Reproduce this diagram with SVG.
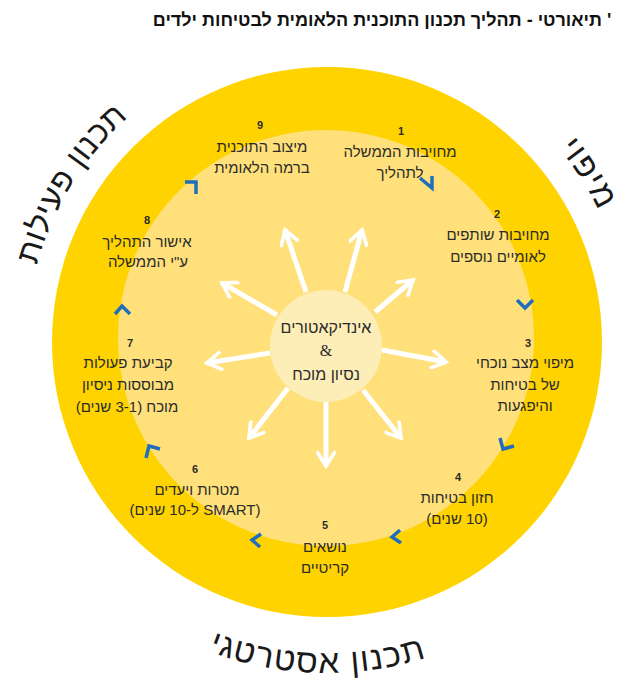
<svg xmlns="http://www.w3.org/2000/svg" xmlns:xlink="http://www.w3.org/1999/xlink" width="617" height="681" viewBox="0 0 617 681">
<style>
.lbl{font-family:"Liberation Sans","DejaVu Sans",sans-serif;font-size:15px;fill:#2b2b2b;text-anchor:middle;direction:rtl;unicode-bidi:embed}
.num{font-family:"Liberation Sans","DejaVu Sans",sans-serif;font-size:11px;font-weight:bold;fill:#2b2b2b;text-anchor:middle}
.big{font-family:"Liberation Sans","DejaVu Sans",sans-serif;font-size:33px;letter-spacing:1.5px;fill:#1a1a1a;text-anchor:middle;direction:rtl;unicode-bidi:embed}
.ctr{font-family:"Liberation Sans","DejaVu Sans",sans-serif;font-size:16px;fill:#2b2b2b;text-anchor:middle;direction:rtl;unicode-bidi:embed}
.ray{stroke:#ffffff;stroke-width:5;fill:none;marker-end:url(#ah)}
.chev{stroke:#1f6dbd;stroke-width:3.5;fill:none;stroke-linejoin:miter}
</style>
<defs>
<marker id="ah" viewBox="0 0 12 12" refX="10" refY="6" markerWidth="20" markerHeight="20" orient="auto" markerUnits="userSpaceOnUse">
<path d="M2,1 L10,6 L2,11" fill="none" stroke="#ffffff" stroke-width="2.2" stroke-linecap="square"/>
</marker>
<path id="arcBottom" d="M -4,342 A 331 331 0 0 0 658,342"/>
<path id="arcTopA" d="M 27,342 A 300 300 0 0 1 627,342"/>
<path id="arcTopB" d="M 25,342 A 302 302 0 0 1 629,342"/>
</defs>
<rect width="617" height="681" fill="#ffffff"/>
<text x="382" y="26" style="font-family:'Liberation Sans','DejaVu Sans',sans-serif;font-size:18px;font-weight:bold;fill:#111;text-anchor:middle;direction:rtl;unicode-bidi:embed">' תיאורטי - תהליך תכנון התוכנית הלאומית לבטיחות ילדים</text>

<g id="ring">
<circle cx="327" cy="342" r="275" fill="#ffd300"/>
<circle cx="326" cy="338" r="208" fill="#ffe07a"/>
</g>

<g id="connectors">
<line class="ray" x1="306" y1="292" x2="285" y2="230"/>
<line class="ray" x1="345" y1="292" x2="362" y2="230"/>
<line class="ray" x1="277" y1="315" x2="222" y2="283"/>
<line class="ray" x1="375" y1="312" x2="413" y2="280"/>
<line class="ray" x1="270" y1="353" x2="207" y2="363"/>
<line class="ray" x1="382" y1="350" x2="446" y2="362"/>
<line class="ray" x1="288" y1="388" x2="249" y2="438"/>
<line class="ray" x1="363" y1="390" x2="401" y2="438"/>
<line class="ray" x1="326" y1="402" x2="326" y2="466"/>
<polyline class="chev" points="420,178 432,188 432,176"/>
<polyline class="chev" points="517,300 525,308 533,300"/>
<polyline class="chev" points="500,438 503,449 514,446"/>
<polyline class="chev" points="400,530 392,537 401,543"/>
<polyline class="chev" points="261,534 252,540 260,547"/>
<polyline class="chev" points="146,458 149,446 160,449"/>
<polyline class="chev" points="115,314 122,306 130,314"/>
<polyline class="chev" points="185,182 196,182 196,194"/>
</g>

<g id="center">
<circle cx="326" cy="346" r="56" fill="#fdeeb8"/>
<text class="ctr" x="326" y="333">אינדיקאטורים</text>
<text x="326" y="356" style="font-family:'Liberation Serif',serif;font-size:16px;fill:#2b2b2b;text-anchor:middle">&amp;</text>
<text class="ctr" x="326" y="380">נסיון מוכח</text>
</g>

<g id="step1"><text class="num" x="401" y="135">1</text><text class="lbl" x="400" y="157">מחויבות הממשלה</text><text class="lbl" x="400" y="178">לתהליך</text></g>
<g id="step2"><text class="num" x="497" y="218">2</text><text class="lbl" x="498" y="240">מחויבות שותפים</text><text class="lbl" x="498" y="262">לאומיים נוספים</text></g>
<g id="step3"><text class="num" x="528" y="347">3</text><text class="lbl" x="525" y="368">מיפוי מצב נוכחי</text><text class="lbl" x="525" y="390">של בטיחות</text><text class="lbl" x="525" y="411">והיפגעות</text></g>
<g id="step4"><text class="num" x="458" y="481">4</text><text class="lbl" x="457" y="503">חזון בטיחות</text><text class="lbl" x="457" y="524">(10 שנים)</text></g>
<g id="step5"><text class="num" x="325" y="529">5</text><text class="lbl" x="325" y="552">נושאים</text><text class="lbl" x="325" y="573">קריטיים</text></g>
<g id="step6"><text class="num" x="195" y="473">6</text><text class="lbl" x="197" y="495">מטרות ויעדים</text><text class="lbl" x="195" y="515">(SMART ל-10 שנים)</text></g>
<g id="step7"><text class="num" x="130" y="347">7</text><text class="lbl" x="128" y="368">קביעת פעולות</text><text class="lbl" x="128" y="390">מבוססות ניסיון</text><text class="lbl" x="127" y="412">מוכח (3-1 שנים)</text></g>
<g id="step8"><text class="num" x="147" y="224">8</text><text class="lbl" x="147" y="247">אישור התהליך</text><text class="lbl" x="148" y="267">ע"י הממשלה</text></g>
<g id="step9"><text class="num" x="260" y="129">9</text><text class="lbl" x="262" y="152">מיצוב התוכנית</text><text class="lbl" x="262" y="173">ברמה הלאומית</text></g>

<g id="phases">
<text class="big"><textPath xlink:href="#arcBottom" href="#arcBottom" startOffset="510">תכנון אסטרטגי</textPath></text>
<text class="big" style="font-size:32px;letter-spacing:0.5px"><textPath xlink:href="#arcTopA" href="#arcTopA" startOffset="166">תכנון פעילות</textPath></text>
<text class="big"><textPath xlink:href="#arcTopB" href="#arcTopB" startOffset="776">מיפוי</textPath></text>
</g>
</svg>
